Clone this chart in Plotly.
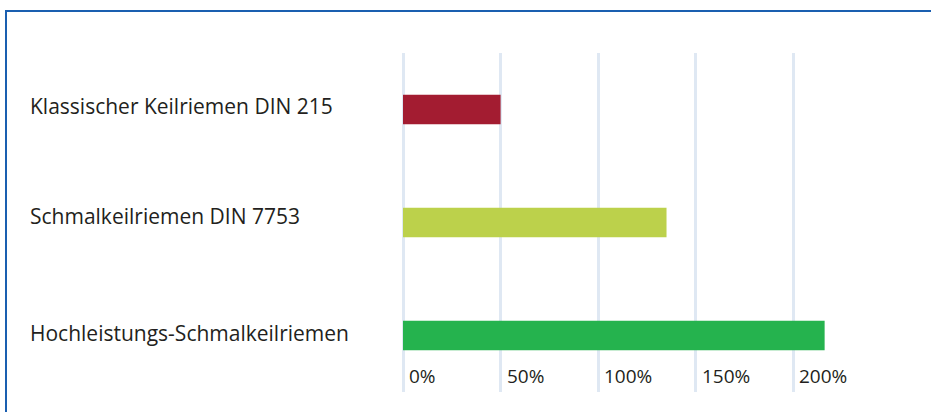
import plotly.graph_objects as go

categories = ["Klassischer Keilriemen DIN 215", "Schmalkeilriemen DIN 7753", "Hochleistungs-Schmalkeilriemen"]
values = [50, 135, 216]
colors = ["#a31c31", "#bcd14b", "#25b34e"]
tick_values = [0, 50, 100, 150, 200]
tick_labels = ["0%", "50%", "100%", "150%", "200%"]

W, H = 931, 412
ml, mr, mt, mb = 403, 40, 53, 20
pw, ph = W - ml - mr, H - mt - mb

fig = go.Figure()
fig.add_trace(go.Bar(
    y=categories, x=values, orientation="h",
    marker=dict(color=colors, line=dict(width=0)),
    width=0.26, hoverinfo="x+y",
))

font_family = "Open Sans, Noto Sans, sans-serif"
text_color = "#231f20"

label_shifts = [4, 7, 3]
annotations = []
for c, s in zip(categories, label_shifts):
    annotations.append(dict(
        x=(28 - ml) / pw, xref="paper", y=c, yref="y",
        text=c, showarrow=False, xanchor="left", yanchor="middle", yshift=s,
        font=dict(family=font_family, size=21, color=text_color),
    ))
for v, t in zip(tick_values, tick_labels):
    annotations.append(dict(
        x=v, xref="x", y=(H - mb - 376) / ph, yref="paper",
        text=t, showarrow=False, xanchor="left", yanchor="middle", xshift=4,
        font=dict(family=font_family, size=19, color=text_color),
    ))

fig.update_layout(
    width=W, height=H,
    margin=dict(l=ml, r=mr, t=mt, b=mb, pad=0),
    paper_bgcolor="white", plot_bgcolor="white",
    showlegend=False,
    xaxis=dict(range=[0, 250], tickvals=tick_values, showticklabels=False,
               showgrid=True, gridcolor="#dfe8f3", gridwidth=2.5,
               zeroline=True, zerolinecolor="#dfe8f3", zerolinewidth=2.5,
               showline=False, fixedrange=True),
    yaxis=dict(categoryorder="array", categoryarray=categories, autorange="reversed",
               showticklabels=False, showgrid=False, zeroline=False, showline=False,
               range=[2.5, -0.5], fixedrange=True),
    annotations=annotations,
    shapes=[dict(type="rect", xref="paper", yref="paper",
                 x0=(6 - ml) / pw, x1=1.3, y0=-0.3, y1=(H - mb - 11) / ph,
                 line=dict(color="#1a5fb0", width=2), fillcolor="rgba(0,0,0,0)", layer="below")],
)

fig.write_html("out.html", config={"displayModeBar": False},
               post_script="document.body.style.margin='0';document.body.style.overflow='hidden';")
